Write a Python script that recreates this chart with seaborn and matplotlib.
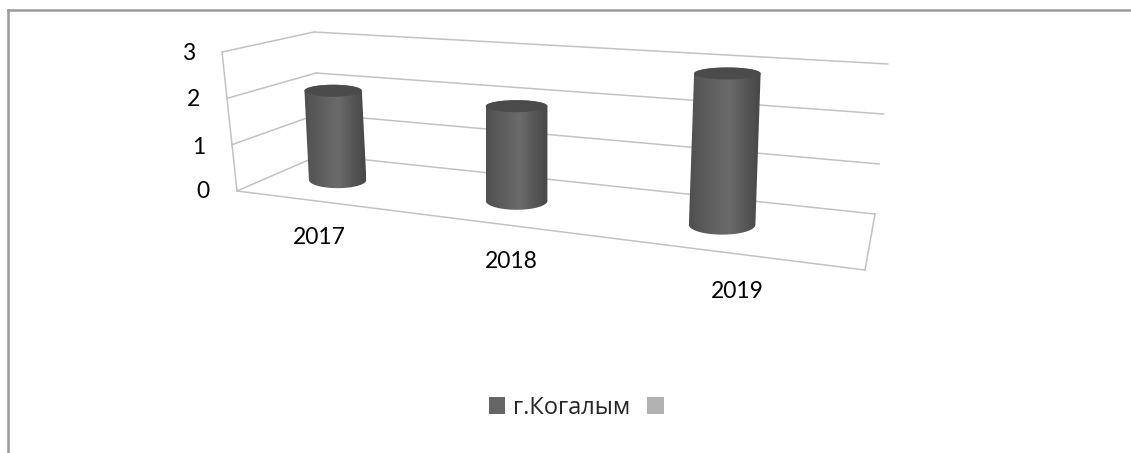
import numpy as np
import pandas as pd
import matplotlib
matplotlib.use("Agg")
import matplotlib.pyplot as plt
import seaborn as sns
from matplotlib.transforms import Transform, IdentityTransform
from matplotlib.path import Path
from matplotlib.patches import PathPatch, Patch

# ---- data ----
years = ["2017", "2018", "2019"]
values = [2, 2, 3]
value_ticks = [0, 1, 2, 3]
series_names = ["г.Когалым", ""]

# ---- layout (pixels of the picture) ----
W, H = 1131, 453
CORNERS = {  # (along, depth, value)
    (0, 0, 0): (237, 191), (1, 0, 0): (865, 270),
    (0, 1, 0): (320, 155), (1, 1, 0): (875, 214),
    (0, 0, 1): (222, 52), (1, 0, 1): (893, 104),
    (0, 1, 1): (314, 32), (1, 1, 1): (888, 64),
}
VMAX = 3
YEAR_POS = [(319, 238), (511, 262), (737, 291)]
TICK_POS = [(203, 192), (199, 147), (194, 100), (189, 53)]


def project(t, d, w):
    """3D box position (along, depth, value) -> picture pixels."""
    t, d, w = np.asarray(t, float), np.asarray(d, float), np.asarray(w, float) / VMAX
    px = np.zeros(t.shape)
    py = np.zeros(t.shape)
    for (a, b, c), (x, y) in CORNERS.items():
        k = (t if a else 1 - t) * (d if b else 1 - d) * (w if c else 1 - w)
        px = px + k * x
        py = py + k * y
    return px, py


def cat_to_t(u):
    u = np.asarray(u, float)
    return 0.100 + 0.2800 * u + 0.0225 * u ** 2


class Plane(Transform):
    """Maps (a, value) on one plane of the box to display coordinates."""
    input_dims = output_dims = 2
    has_inverse = False
    is_separable = False

    def __init__(self, kind, fixed):
        super().__init__()
        self.kind, self.fixed = kind, fixed

    def transform_non_affine(self, xy):
        xy = np.asarray(xy, float)
        a, w = xy[:, 0], xy[:, 1]
        f = np.full(a.shape, self.fixed)
        if self.kind == "cat":
            px, py = project(cat_to_t(a), f, w)
        elif self.kind == "along":
            px, py = project(a, f, w)
        else:
            px, py = project(f, a, w)
        return np.column_stack([px, H - py])

    def transform(self, values):
        return self.transform_non_affine(np.asarray(values).reshape(-1, 2))


sns.set_theme(style="white")
plt.rcParams["font.family"] = ["Lato", "Open Sans", "DejaVu Sans"]

fig = plt.figure(figsize=(W / 100, H / 100), dpi=100, facecolor="white")
ax = fig.add_axes([7.5 / W, 0, 1 - 7.5 / W, 1 - 10 / H])

df = pd.DataFrame({"year": years, "value": values})
sns.barplot(data=df, x="year", y="value", color="#5a5a5a", width=0.2,
            saturation=1, ax=ax, zorder=2, legend=False)

GRID = "#c2c2c2"
lw = 1.1
back = Plane("along", 1.0)
side = Plane("depth", 0.0)
front = Plane("along", 0.0)
for v in value_ticks:
    ax.plot([0, 1], [v, v], color=GRID, lw=lw, transform=back, zorder=1, clip_on=False)
    ax.plot([0, 1], [v, v], color=GRID, lw=lw, transform=side, zorder=1, clip_on=False)
ax.plot([0, 0], [0, VMAX], color=GRID, lw=lw, transform=side, zorder=1)
ax.plot([0, 1], [0, 0], color=GRID, lw=lw, transform=front, zorder=1)
ax.plot([0, 1], [0, 0], color=GRID, lw=lw, transform=Plane("depth", 1.0), zorder=1)

# cylinders, built on the bars seaborn drew
stops_x = [0, 0.12, 0.55, 0.85, 1]
stops_v = [0.31, 0.34, 0.42, 0.32, 0.28]
grad = np.interp(np.linspace(0, 1, 128), stops_x, stops_v)[None, :]
for i, bar in enumerate(ax.patches):
    u = bar.get_x() + bar.get_width() / 2
    v = bar.get_height()
    bar.set_transform(Plane("cat", 0.5))
    bar.set_edgecolor("none")
    t = float(cat_to_t(u))
    half = (56 + 14 * t) / 2
    bx, by = project(t, 0.5, 0.0)
    _, ty = project(t, 0.5, v)
    bx, by, ty = float(bx), float(by), float(ty)
    tx = bx - 6 + 15 * t          # the cylinders lean less than the walls
    ry_top, ry_bot = 6.0, 8 + 2.5 * t
    th = np.linspace(0, np.pi, 40)
    top_arc = np.column_stack([tx - half * np.cos(th), H - ty + ry_top * np.sin(th)])
    bot_arc = np.column_stack([bx + half * np.cos(th), H - by - ry_bot * np.sin(th)])
    outline = np.vstack([top_arc, bot_arc, top_arc[:1]])
    clip = PathPatch(Path(outline), transform=IdentityTransform())
    im = ax.imshow(grad, cmap="gray", vmin=0, vmax=1, aspect="auto", zorder=3,
                   extent=(min(bx, tx) - half, max(bx, tx) + half, H - by - 20, H - ty + 20),
                   transform=IdentityTransform())
    im.set_clip_path(clip)
    th2 = np.linspace(0, 2 * np.pi, 80)
    cap = np.column_stack([tx + half * np.cos(th2), H - ty + ry_top * np.sin(th2)])
    ax.add_patch(PathPatch(Path(cap), transform=IdentityTransform(), facecolor="#4b4b4b",
                           edgecolor="none", zorder=4))

ax.set_xlim(-0.5, 2.5)
ax.set_ylim(0, VMAX)
ax.set_xlabel("")
ax.set_ylabel("")
ax.set_xticks([])
ax.set_yticks([])
sns.despine(ax=ax, top=False, left=False, right=True, bottom=True)
for s in ("top", "left"):
    ax.spines[s].set_color("#9a9a9a")
    ax.spines[s].set_linewidth(1.8)

FS = 16.5
for lab, (x, y) in zip(years, YEAR_POS):
    ax.text(x, H - y, lab, transform=IdentityTransform(), ha="center", va="center",
            fontsize=FS, color="black")
for lab, (x, y) in zip(value_ticks, TICK_POS):
    ax.text(x, H - y, str(lab), transform=IdentityTransform(), ha="center", va="center",
            fontsize=FS, color="black")

handles = [Patch(facecolor="#666666", edgecolor="none"),
           Patch(facecolor="#b2b2b2", edgecolor="none")]
leg = ax.legend(handles, series_names, ncols=2, frameon=False, loc="center",
                bbox_to_anchor=(580 / W, 1 - 408 / H), bbox_transform=fig.transFigure,
                prop={"family": ["Open Sans", "DejaVu Sans"], "size": 17},
                handlelength=0.68, handleheight=0.76, handletextpad=0.3,
                columnspacing=0.75, borderpad=0, borderaxespad=0)

fig.savefig("out.png", dpi=100, facecolor="white")
